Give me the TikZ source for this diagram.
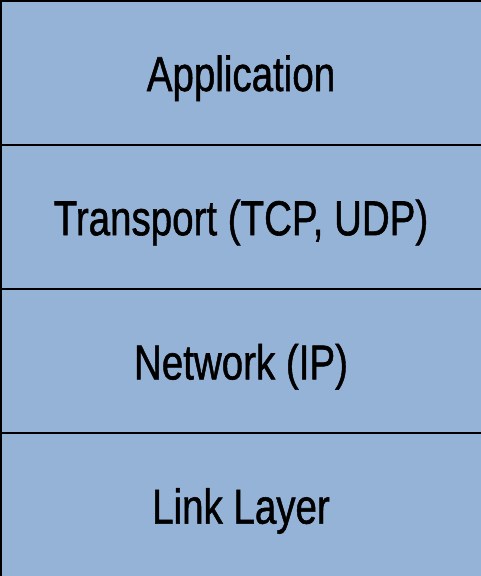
\documentclass[tikz,border=0pt]{standalone}
\usepackage{fontspec}
\setmainfont{Liberation Sans}
\newfontfamily\layerfont[FakeBold=1.2]{Liberation Sans}
\definecolor{layerblue}{RGB}{149,179,215}
\begin{document}
\begin{tikzpicture}[x=1pt,y=-1pt,
  layer/.style={draw=black, line width=2pt, fill=layerblue, rectangle,
    anchor=north west, minimum width=520pt, minimum height=144.2pt,
    inner sep=0pt, outer sep=0pt},
  lbl/.style={anchor=base, inner sep=0pt,
    font=\layerfont\fontsize{49}{49}\selectfont}]
\useasboundingbox (0,0) rectangle (481,576);
\clip (0,0) rectangle (481,576);
% protocol stack, one box per layer
\node[layer] (app)  at (1,0.8)   {};
\node[layer] (tran) at (1,145.0) {};
\node[layer] (net)  at (1,289.2) {};
\node[layer] (link) at (1,433.4) {};
% layer names
\node[lbl] (appt)  at (241,91.0)  {\scalebox{0.786}[1]{Application}};
\node[lbl] (trant) at (241,235.2) {\scalebox{0.786}[1]{Transport (TCP, UDP)}};
\node[lbl] (nett)  at (241,379.4) {\scalebox{0.786}[1]{Network (IP)}};
\node[lbl] (linkt) at (241,523.6) {\scalebox{0.786}[1]{Link Layer}};
\end{tikzpicture}
\end{document}
